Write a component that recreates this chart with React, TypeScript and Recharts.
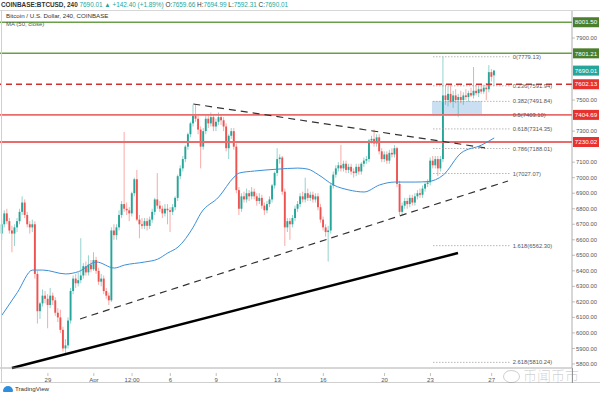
import React from 'react';
import { ComposedChart, Bar, Line, XAxis, YAxis, ReferenceLine, ReferenceArea } from 'recharts';

// 4h candles, index 0 = Mar 26 00:00 : [open, high, low, close]
const ohlc: [number, number, number, number][] = [
  [6640,6730,6600,6700],[6700,6790,6680,6770],[6770,6800,6700,6720],[6720,6740,6640,6660],[6660,6690,6520,6640],
  [6640,6700,6560,6680],[6680,6740,6650,6720],[6720,6800,6700,6780],[6780,6880,6760,6840],[6840,6860,6740,6760],
  [6760,6780,6680,6700],[6700,6720,6640,6680],[6680,6730,6650,6700],[6700,6720,6350,6380],[6380,6400,6060,6140],
  [6140,6200,6090,6190],[6190,6280,6170,6240],[6240,6270,6190,6220],[6220,6250,6030,6180],[6180,6290,6160,6240],
  [6240,6260,6180,6210],[6210,6230,6110,6130],[6130,6160,6070,6100],[6100,6150,6000,6020],[6020,6040,5880,5900],
  [5900,5960,5860,5920],[5920,6100,5900,6080],[6080,6290,6060,6270],[6270,6370,6250,6350],[6350,6380,6290,6320],
  [6320,6390,6300,6340],[6340,6610,6320,6370],[6370,6450,6350,6430],[6430,6460,6370,6390],[6390,6500,6370,6440],
  [6440,6470,6390,6410],[6410,6520,6400,6470],[6470,6490,6380,6400],[6400,6420,6310,6330],[6330,6380,6300,6350],
  [6350,6370,6250,6270],[6270,6290,6220,6240],[6240,6260,6180,6210],[6210,6680,6200,6660],[6660,6700,6600,6630],
  [6630,6700,6600,6680],[6680,6790,6660,6760],[6760,6850,6740,6830],[6830,7294,6780,6800],[6800,6840,6760,6790],
  [6790,6810,6720,6770],[6770,6910,6750,6900],[6900,7000,6880,6990],[6990,7050,6720,6730],[6730,6760,6610,6700],
  [6700,6740,6670,6690],[6690,6740,6670,6720],[6720,6740,6660,6690],[6690,6750,6670,6730],[6730,6800,6710,6780],
  [6780,6870,6760,6860],[6860,7030,6800,6820],[6820,6850,6780,6800],[6800,6820,6740,6770],[6770,6830,6750,6800],
  [6800,6830,6700,6790],[6790,6810,6650,6780],[6780,6830,6760,6810],[6810,6880,6790,6870],[6870,7020,6850,7010],
  [7010,7080,6990,7060],[7060,7140,7040,7120],[7120,7210,7100,7200],[7200,7290,7180,7280],[7280,7360,7260,7350],
  [7350,7470,7330,7400],[7400,7470,7360,7380],[7380,7400,7280,7310],[7310,7330,7060,7200],[7200,7320,7180,7300],
  [7300,7400,7280,7380],[7380,7400,7320,7350],[7350,7420,7330,7390],[7390,7410,7300,7330],[7330,7380,7300,7360],
  [7360,7420,7340,7390],[7390,7410,7340,7370],[7370,7390,7300,7330],[7330,7350,7170,7190],[7190,7280,7120,7270],
  [7270,7320,7250,7300],[7300,7320,7180,7200],[7200,7220,6900,6920],[6920,6940,6760,6800],[6800,6900,6780,6880],
  [6880,6910,6840,6860],[6860,6930,6840,6900],[6900,6920,6850,6880],[6880,6940,6860,6910],[6910,6930,6860,6880],
  [6880,6900,6820,6850],[6850,6900,6830,6870],[6870,6890,6800,6820],[6820,6840,6760,6790],[6790,6850,6770,6830],
  [6830,6880,6810,6860],[6860,6960,6840,6950],[6950,7040,6930,7030],[7030,7190,7010,7120],[7120,7150,7090,7130],
  [7130,7140,6890,6910],[6910,6930,6560,6680],[6680,6740,6650,6720],[6720,6740,6600,6700],[6700,6760,6680,6740],
  [6740,6820,6720,6800],[6800,6850,6780,6830],[6830,6900,6810,6880],[6880,6910,6840,6860],[6860,7000,6840,6900],
  [6900,6930,6850,6870],[6870,6910,6850,6890],[6890,6910,6840,6860],[6860,6900,6840,6880],[6880,6900,6790,6810],
  [6810,6830,6710,6730],[6730,6750,6660,6680],[6680,6700,6620,6650],[6650,6690,6460,6660],[6660,6960,6640,6950],
  [6950,7040,6930,7020],[7020,7080,7000,7060],[7060,7100,7040,7080],[7080,7210,7040,7060],[7060,7110,7040,7090],
  [7090,7110,7030,7050],[7050,7090,7030,7070],[7070,7090,7020,7040],[7040,7060,7000,7030],[7030,7090,7010,7070],
  [7070,7090,7020,7040],[7040,7100,7020,7090],[7090,7130,7070,7110],[7110,7140,7090,7120],[7120,7250,7100,7240],
  [7240,7270,7220,7250],[7250,7310,7200,7220],[7220,7280,7200,7260],[7260,7280,7150,7170],[7170,7190,7100,7120],
  [7120,7170,7100,7150],[7150,7170,7090,7110],[7110,7180,7090,7160],[7160,7190,7130,7150],[7150,7210,7130,7190],
  [7190,7200,6940,6960],[6960,6980,6760,6780],[6780,6840,6760,6820],[6820,6870,6800,6850],[6850,6870,6800,6830],
  [6830,6890,6810,6870],[6870,6890,6820,6840],[6840,6900,6820,6880],[6880,6920,6860,6900],[6900,6930,6870,6890],
  [6890,6950,6870,6930],[6930,6970,6910,6960],[6960,6990,6940,6970],[6970,7130,6950,7110],[7110,7140,7060,7080],
  [7080,7140,7060,7120],[7120,7140,7010,7060],[7060,7140,7040,7120],[7120,7779,7100,7530],[7530,7600,7470,7500],
  [7500,7590,7460,7540],[7540,7600,7480,7490],[7490,7560,7450,7530],[7530,7570,7480,7500],[7500,7540,7390,7520],
  [7520,7560,7480,7500],[7500,7550,7470,7530],[7530,7570,7500,7520],[7520,7560,7490,7545],[7545,7580,7520,7530],
  [7530,7713,7510,7560],[7560,7600,7530,7545],[7545,7590,7520,7570],[7570,7600,7540,7555],[7555,7600,7540,7580],
  [7580,7610,7500,7570],[7570,7725,7550,7680],[7680,7700,7620,7650],[7659.66,7694.99,7592.31,7690.01],
];

// MA(50, close) read at sparse candle indices
const maIndex = [0,6,12,16,25,30,37,44,48,56,61,65,69,75,78,85,91,93,99,108,116,120,124,130,136,142,148,154,162,167,173,180,188,193];
const maValue = [6115,6260,6405,6405,6380,6395,6457,6418,6437,6457,6475,6515,6553,6682,6772,6876,7004,7030,7043,7055,7062,7055,7020,6953,6921,6908,6953,6972,6972,6975,7017,7159,7210,7256];

const timeTickIndex = [18,36,51,66,84,108,126,150,168,192];
const timeTickLabels = ['29','Apr','12:00','6','9','13','16','20','23','27'];
const priceTicks = [5800,5900,6000,6100,6200,6300,6400,6500,6600,6700,6800,6900,7000,7100,7300,7500,7900];

const levelPrices = [8001.5, 7801.21, 7602.13, 7404.69, 7230.02];
const levelLabels = ['8001.50', '7801.21', '7602.13', '7404.69', '7230.02'];

const fibRatios = ['0','0.236','0.382','0.5','0.618','0.786','1','1.618','2.618'];
const fibPrices = [7779.13,7591.94,7491.84,7403.10,7314.35,7188.01,7027.07,6562.30,5810.24];

const descLine = [[75,7475],[190,7191]];
const ascLine = [[30.6,6090],[198.4,6979]];
const supportLine = [[3.9,5774],[178.8,6515]];
const boxRange = { x1: 168.6, x2: 188.2, y1: 7410, y2: 7494 };

const UP = '#26a69a';
const DOWN = '#ef5350';
const GREEN_LINE = '#6a9f4a';
const GREEN_TAG = '#4b7f2c';
const RED_TAG = '#e8322f';
const FONT = '"Liberation Sans", Arial, sans-serif';

const maMap = new Map<number, number>();
maIndex.forEach((ix, k) => maMap.set(ix, maValue[k]));

const data = ohlc.map((d, i) => ({
  i,
  o: d[0], h: d[1], l: d[2], c: d[3],
  range: [d[2], d[1]],
  ma: maMap.has(i) ? maMap.get(i) : null,
}));

const Candle = (props: any) => {
  const { x, y, width, height, payload } = props;
  if (!payload) return null;
  const { o, h, l, c } = payload;
  const top = Math.min(y, y + height);
  const ht = Math.abs(height);
  const up = c >= o;
  const color = up ? UP : DOWN;
  const py = (p: number) => (h === l ? top : top + ((h - p) / (h - l)) * ht);
  const cx = x + width / 2;
  const yo = py(o), yc = py(c);
  const bt = Math.min(yo, yc);
  const bh = Math.max(Math.abs(yo - yc), 1);
  return (
    <g>
      <line x1={cx} x2={cx} y1={top} y2={top + ht} stroke={color} strokeOpacity={0.55} strokeWidth={0.9} />
      <rect x={cx - 0.95} y={bt} width={1.9} height={bh} fill={color} />
    </g>
  );
};

const PriceTag = ({ viewBox, text, fill }: any) => {
  if (!viewBox) return null;
  const x = viewBox.x + viewBox.width + 1;
  const y = viewBox.y;
  return (
    <g>
      <rect x={x} y={y - 5} width={26} height={10} fill={fill} />
      <text x={x + 13} y={y + 2.2} fill="#fff" fontSize={6.2} fontFamily={FONT} textAnchor="middle">{text}</text>
    </g>
  );
};

const FibLabel = ({ viewBox, text }: any) => {
  if (!viewBox) return null;
  const x = viewBox.x + viewBox.width + 2;
  const y = viewBox.y;
  return (
    <text x={x} y={y + 2} fill="#555" fontSize={5.8} fontFamily={FONT} textAnchor="start">{text}</text>
  );
};

const TimeTick = (props: any) => {
  const { x, y, payload } = props;
  const k = timeTickIndex.indexOf(payload.value);
  return (
    <g>
      <line x1={x} x2={x} y1={y - 3} y2={y} stroke="#999" strokeWidth={0.6} />
      <text x={x} y={y + 6} fill="#555" fontSize={6} fontFamily={FONT} textAnchor="middle">{k >= 0 ? timeTickLabels[k] : ''}</text>
    </g>
  );
};

export default function App() {
  return (
    <div style={{ position: 'absolute', left: 0, top: 0, width: 600, height: 398, background: '#fff', overflow: 'hidden', fontFamily: FONT }}>
      <ComposedChart
        width={600}
        height={383}
        data={data}
        margin={{ top: 11, right: 0, bottom: 0, left: 0 }}
      >
        <XAxis
          dataKey="i"
          type="number"
          domain={[-0.78, 223.5]}
          allowDataOverflow
          ticks={timeTickIndex}
          interval={0}
          height={15}
          axisLine={{ stroke: '#999', strokeWidth: 0.8 }}
          tickLine={false}
          tick={<TimeTick />}
        />
        <YAxis
          orientation="right"
          type="number"
          domain={[5774, 8074]}
          allowDataOverflow
          ticks={priceTicks}
          interval={0}
          width={28}
          axisLine={{ stroke: '#999', strokeWidth: 0.8 }}
          tickLine={{ stroke: '#999', strokeWidth: 0.6 }}
          tickSize={3}
          tickMargin={1}
          tick={{ fontSize: 5.8, fill: '#555', fontFamily: FONT }}
          tickFormatter={(v: number) => v.toFixed(2)}
        />

        <ReferenceArea x1={boxRange.x1} x2={boxRange.x2} y1={boxRange.y1} y2={boxRange.y2} fill="#9fc5e8" fillOpacity={0.55} stroke="none" ifOverflow="visible" />

        <ReferenceLine y={levelPrices[0]} stroke={GREEN_LINE} strokeWidth={1.5} label={(p: any) => <PriceTag {...p} text={levelLabels[0]} fill={GREEN_TAG} />} />
        <ReferenceLine y={levelPrices[1]} stroke={GREEN_LINE} strokeWidth={1.5} label={(p: any) => <PriceTag {...p} text={levelLabels[1]} fill={GREEN_TAG} />} />
        <ReferenceLine y={levelPrices[2]} stroke="#d32f2f" strokeWidth={1.4} strokeDasharray="6 4" label={(p: any) => <PriceTag {...p} text={levelLabels[2]} fill={RED_TAG} />} />
        <ReferenceLine y={levelPrices[3]} stroke="#ea6b6b" strokeWidth={1.8} label={(p: any) => <PriceTag {...p} text={levelLabels[3]} fill={RED_TAG} />} />
        <ReferenceLine y={levelPrices[4]} stroke="#ea6b6b" strokeWidth={1.8} label={(p: any) => <PriceTag {...p} text={levelLabels[4]} fill={RED_TAG} />} />
        <ReferenceLine y={7690.01} stroke="#26a69a" strokeOpacity={0} label={(p: any) => <PriceTag {...p} text="7690.01" fill="#26a69a" />} />

        {fibPrices.map((fp, k) => (
          <ReferenceLine
            key={'fib' + k}
            segment={[{ x: 169, y: fp }, { x: 199.5, y: fp }]}
            stroke="#9a9a9a"
            strokeWidth={0.7}
            strokeDasharray="1.5 1.5"
            ifOverflow="visible"
            label={(p: any) => <FibLabel {...p} text={`${fibRatios[k]}(${fp.toFixed(2)})`} />}
          />
        ))}

        <ReferenceLine segment={[{ x: descLine[0][0], y: descLine[0][1] }, { x: descLine[1][0], y: descLine[1][1] }]} stroke="#333" strokeWidth={1.2} strokeDasharray="7 5" ifOverflow="visible" />
        <ReferenceLine segment={[{ x: ascLine[0][0], y: ascLine[0][1] }, { x: ascLine[1][0], y: ascLine[1][1] }]} stroke="#333" strokeWidth={1.2} strokeDasharray="7 5" ifOverflow="visible" />
        <ReferenceLine segment={[{ x: supportLine[0][0], y: supportLine[0][1] }, { x: supportLine[1][0], y: supportLine[1][1] }]} stroke="#000" strokeWidth={2.4} ifOverflow="visible" />

        <Line dataKey="ma" type="monotone" stroke="#3b8fd9" strokeWidth={1} dot={false} connectNulls isAnimationActive={false} />
        <Bar dataKey="range" barSize={2} shape={<Candle />} isAnimationActive={false} />
      </ComposedChart>

      {/* frame lines */}
      <div style={{ position: 'absolute', left: 0, top: 10, width: 600, height: 1, background: '#d6d6d6' }} />
      <div style={{ position: 'absolute', left: 1, top: 10, width: 1, height: 373, background: '#cfcfcf' }} />
      <div style={{ position: 'absolute', left: 0, top: 382, width: 600, height: 1, background: '#cfcfcf' }} />
      <div style={{ position: 'absolute', left: 572, top: 368, width: 1, height: 15, background: '#999' }} />

      {/* header */}
      <div style={{ position: 'absolute', left: 1, top: 0, fontSize: 6.4, lineHeight: '9px', whiteSpace: 'nowrap', color: '#333' }}>
        <span style={{ fontWeight: 700 }}>COINBASE:BTCUSD, 240</span>{' '}
        <span style={{ color: '#26a69a' }}>7690.01 ▲ +142.40 (+1.89%)</span>{' '}
        O:<span style={{ color: '#26a69a' }}>7659.66</span>{' '}
        H:<span style={{ color: '#26a69a' }}>7694.99</span>{' '}
        L:<span style={{ color: '#26a69a' }}>7592.31</span>{' '}
        C:<span style={{ color: '#26a69a' }}>7690.01</span>
      </div>
      <div style={{ position: 'absolute', left: 6, top: 12, fontSize: 6.2, lineHeight: '8px', whiteSpace: 'nowrap', color: '#333' }}>
        Bitcoin / U.S. Dollar, 240, COINBASE
      </div>
      <div style={{ position: 'absolute', left: 6, top: 20, fontSize: 6, lineHeight: '8px', whiteSpace: 'nowrap', color: '#555' }}>
        MA (50, close)
      </div>

      {/* footer logo */}
      <div style={{ position: 'absolute', left: 3, top: 386, width: 10, height: 6, background: '#2f8fdc', borderRadius: '5px 5px 1px 1px' }} />
      <div style={{ position: 'absolute', left: 15, top: 385, fontSize: 6.2, lineHeight: '8px', color: '#333', whiteSpace: 'nowrap' }}>TradingView</div>

      {/* watermark */}
      <div style={{ position: 'absolute', left: 503, top: 370, width: 15, height: 11, border: '1px solid rgba(120,120,120,0.35)', borderRadius: '50%' }} />
      <div style={{ position: 'absolute', left: 523, top: 367, fontSize: 14, lineHeight: '17px', color: 'rgba(120,120,120,0.35)', fontFamily: '"Noto Sans CJK SC", sans-serif', fontWeight: 300, whiteSpace: 'nowrap' }}>币闻币市</div>
    </div>
  );
}
